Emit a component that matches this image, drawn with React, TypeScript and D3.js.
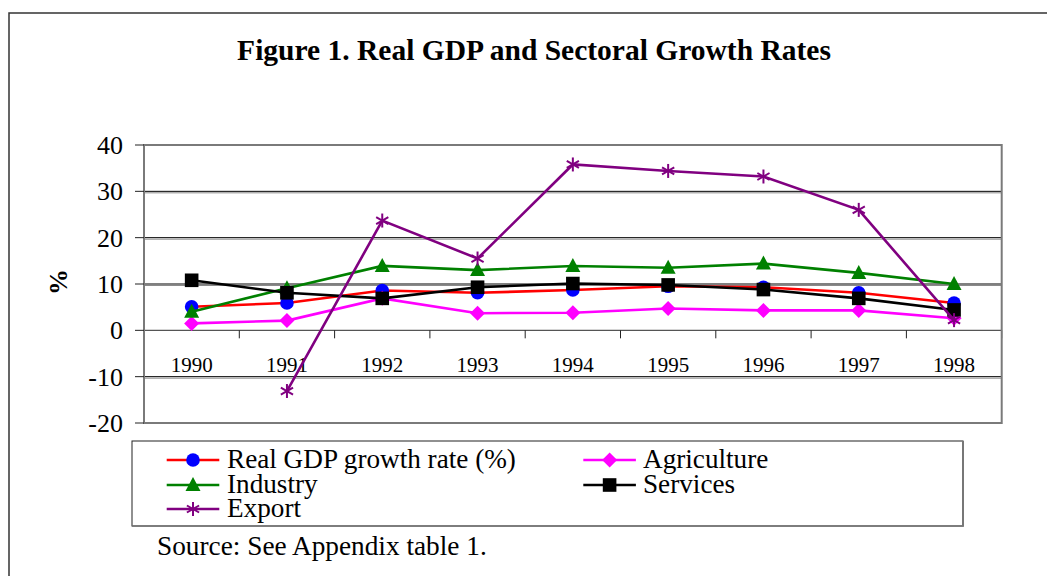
import React from "react";
import * as d3 from "d3";

const years = ["1990", "1991", "1992", "1993", "1994", "1995", "1996", "1997", "1998"];
const gdp = [5.1, 5.9, 8.6, 8.1, 8.7, 9.5, 9.3, 8.1, 5.9];
const agriculture = [1.5, 2.1, 6.9, 3.7, 3.8, 4.7, 4.3, 4.3, 2.6];
const industry = [4.0, 9.1, 13.9, 13.0, 13.9, 13.5, 14.4, 12.4, 10.0];
const services = [10.8, 8.1, 6.9, 9.3, 10.1, 9.8, 8.8, 6.9, 4.4];
const exportG = [null, -13.1, 23.7, 15.5, 35.8, 34.4, 33.2, 26.0, 2.2];
const yTicks = [40, 30, 20, 10, 0, -10, -20];
const gridValues = [30, 20, 10, -10];

const FONT = "'Liberation Serif', 'Times New Roman', serif";

type Series = {
  name: string;
  values: (number | null)[];
  line: string;
  marker: string;
  shape: "circle" | "diamond" | "triangle" | "square" | "asterisk";
};

const series: Series[] = [
  { name: "Real GDP growth rate (%)", values: gdp, line: "#ff0000", marker: "#0000ff", shape: "circle" },
  { name: "Agriculture", values: agriculture, line: "#ff00ff", marker: "#ff00ff", shape: "diamond" },
  { name: "Industry", values: industry, line: "#008000", marker: "#008000", shape: "triangle" },
  { name: "Services", values: services, line: "#000000", marker: "#000000", shape: "square" },
  { name: "Export", values: exportG, line: "#800080", marker: "#800080", shape: "asterisk" },
];

function Marker({ shape, color, x, y }: { shape: Series["shape"]; color: string; x: number; y: number }) {
  if (shape === "circle") return <circle cx={x} cy={y} r={6.8} fill={color} />;
  if (shape === "square") return <rect x={x - 6.8} y={y - 6.8} width={13.6} height={13.6} fill={color} />;
  if (shape === "diamond")
    return <path d={`M${x},${y - 7.5}L${x + 7.5},${y}L${x},${y + 7.5}L${x - 7.5},${y}Z`} fill={color} />;
  if (shape === "triangle")
    return <path d={`M${x},${y - 8}L${x + 7.5},${y + 6}L${x - 7.5},${y + 6}Z`} fill={color} />;
  const r = 7;
  return (
    <g stroke={color} strokeWidth={2}>
      <line x1={x} y1={y - r} x2={x} y2={y + r} />
      <line x1={x - r * 0.87} y1={y - r * 0.5} x2={x + r * 0.87} y2={y + r * 0.5} />
      <line x1={x - r * 0.87} y1={y + r * 0.5} x2={x + r * 0.87} y2={y - r * 0.5} />
    </g>
  );
}

export default function App() {
  const W = 1047, H = 576;
  const left = 144, right = 1001.7, top = 145, bottom = 423;
  const x = d3.scaleBand<string>().domain(years).range([left, right]);
  const y = d3.scaleLinear().domain([-20, 40]).range([bottom, top]);
  const cx = (i: number) => (x(years[i]) as number) + x.bandwidth() / 2;
  const lineGen = d3
    .line<number | null>()
    .defined((d) => d !== null)
    .x((_, i) => cx(i))
    .y((d) => y(d as number));

  const boundaries = years.map((yr) => x(yr) as number).concat([right]);

  const legendItems = [
    { s: series[0], lx: 166.7, tx: 227, ty: 468, my: 460 },
    { s: series[1], lx: 583.3, tx: 643, ty: 468, my: 460 },
    { s: series[2], lx: 166.7, tx: 227, ty: 493, my: 485 },
    { s: series[3], lx: 583.3, tx: 643, ty: 493, my: 485 },
    { s: series[4], lx: 166.7, tx: 227, ty: 517, my: 509 },
  ];

  return (
    <svg width={W} height={H} style={{ position: "absolute", left: 0, top: 0, background: "#fff" }} fontFamily={FONT}>
      <rect x={0} y={0} width={W} height={H} fill="#fff" />
      {/* outer frame */}
      <path d={`M9,${H + 5}V13H${W + 5}`} fill="none" stroke="#333" strokeWidth={1.5} />
      <text x={534} y={60} textAnchor="middle" fontWeight="bold" fontSize={29.5} fill="#000">
        Figure 1. Real GDP and Sectoral Growth Rates
      </text>

      {/* gridlines */}
      {gridValues.map((v) => (
        <g key={v}>
          <line x1={left} x2={right} y1={y(v)} y2={y(v)} stroke="#000" strokeWidth={1} />
          <line x1={left} x2={right} y1={y(v) + 1.5} y2={y(v) + 1.5} stroke="#8a8a8a" strokeWidth={1} />
        </g>
      ))}
      {/* zero axis */}
      <line x1={left} x2={right} y1={y(0)} y2={y(0)} stroke="#555" strokeWidth={1.2} />
      {boundaries.map((bx, i) => (
        <line key={i} x1={bx} x2={bx} y1={y(0)} y2={y(0) + 8} stroke="#222" strokeWidth={1} />
      ))}
      {/* plot border */}
      <rect x={left} y={top} width={right - left} height={bottom - top} fill="none" stroke="#7a7a7a" strokeWidth={2} />
      {/* y ticks */}
      {yTicks.map((v) => (
        <g key={v}>
          <line x1={135} x2={left} y1={y(v)} y2={y(v)} stroke="#222" strokeWidth={1} />
          <text x={123} y={y(v)} dy="0.34em" textAnchor="end" fontSize={26} fill="#000">
            {v}
          </text>
        </g>
      ))}
      <text
        transform={`translate(58,282) rotate(-90)`}
        textAnchor="middle"
        dy="0.34em"
        fontWeight="bold"
        fontSize={26}
        fill="#000"
      >
        %
      </text>
      {/* category labels */}
      {years.map((yr, i) => (
        <text key={yr} x={cx(i)} y={372} textAnchor="middle" fontSize={21} fill="#000">
          {yr}
        </text>
      ))}

      {/* series */}
      {series.map((s) => (
        <g key={s.name}>
          <path d={lineGen(s.values) || ""} fill="none" stroke={s.line} strokeWidth={2.6} />
          {s.values.map((v, i) =>
            v === null ? null : <Marker key={i} shape={s.shape} color={s.marker} x={cx(i)} y={y(v)} />
          )}
        </g>
      ))}

      {/* legend */}
      <rect x={132} y={441} width={831} height={85} fill="#fff" stroke="#222" strokeWidth={1} />
      <line x1={963} x2={963} y1={441} y2={526} stroke="#777" strokeWidth={2} />
      <line x1={132} x2={964} y1={526} y2={526} stroke="#777" strokeWidth={1.5} />
      {legendItems.map(({ s, lx, tx, ty, my }) => (
        <g key={s.name}>
          <line x1={lx} x2={lx + 52.6} y1={my} y2={my} stroke={s.line} strokeWidth={2.6} />
          <Marker shape={s.shape} color={s.marker} x={lx + 26.3} y={my} />
          <text x={tx} y={ty} fontSize={27.2} fill="#000">
            {s.name}
          </text>
        </g>
      ))}

      <text x={157} y={555} fontSize={27.3} fill="#000">
        Source: See Appendix table 1.
      </text>
    </svg>
  );
}
